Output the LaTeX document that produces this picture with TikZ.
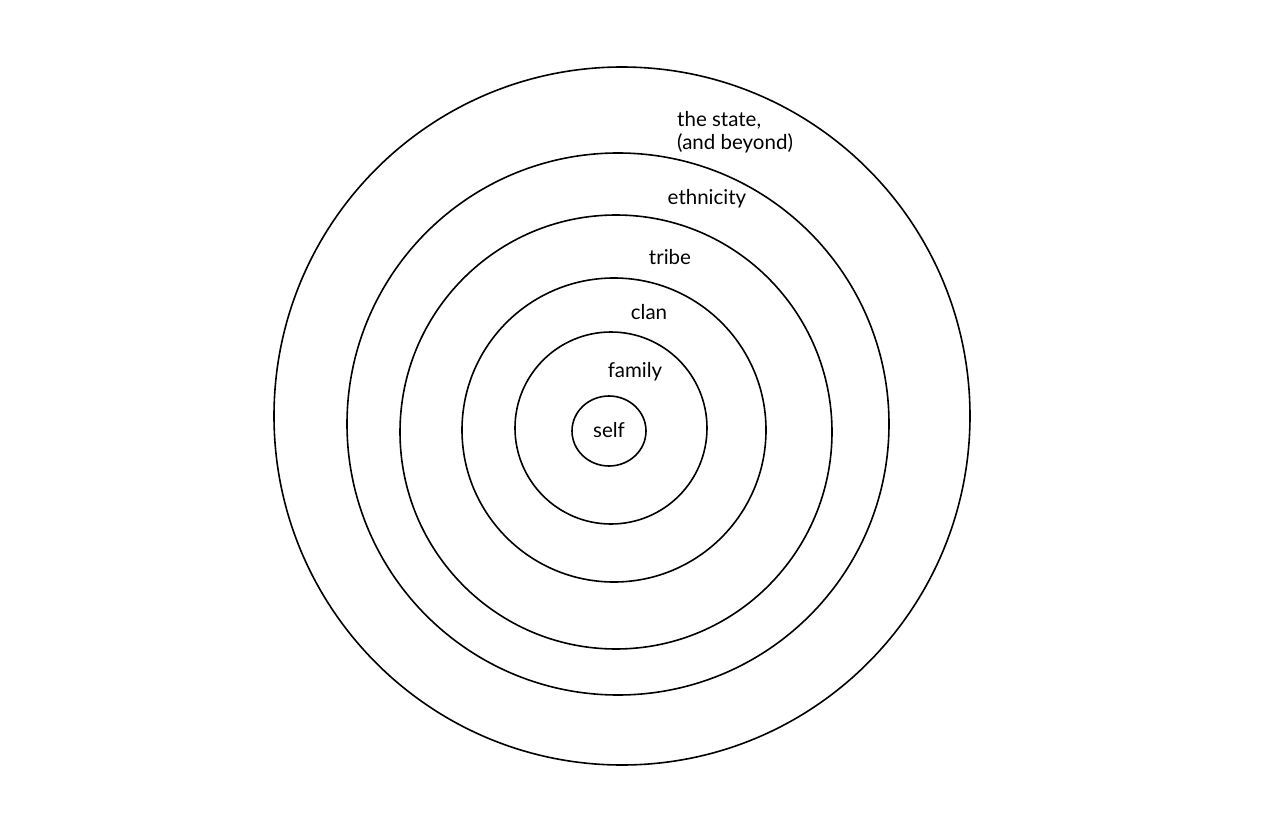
\documentclass[tikz,border=0pt]{standalone}
\usepackage{fontspec}
\setmainfont{Lato}
\usepackage{tikz}
\usetikzlibrary{calc, positioning}

\tikzset{
  ring/.style={draw, line width=1.6pt, line cap=round},
  lbl/.style={font=\fontsize{20.5}{23}\selectfont, inner sep=0pt}
}

\begin{document}
\begin{tikzpicture}[x=1pt, y=-1pt]
                \useasboundingbox (0,0) rectangle (1262,840);

                % Rings, outer to inner
                \draw[ring] (622,416) ellipse [x radius=348, y radius=349];
                \draw[ring] (618,424) ellipse [x radius=271, y radius=271];
                \draw[ring] (616,432) ellipse [x radius=216, y radius=217];
                \draw[ring] (614,430) ellipse [x radius=152, y radius=152];
                \draw[ring] (611,428) ellipse [x radius=96, y radius=96];
                \draw[ring] (609,431) ellipse [x radius=37, y radius=35];

                % Labels
                \node[lbl, align=left, anchor=west] (state) at (677,132) {the state,\\(and beyond)};
                \node[lbl] (ethnicity) at (707,199) {ethnicity};
                \node[lbl] (tribe) at (670,257) {tribe};
                \node[lbl] (clan) at (649,312) {clan};
                \node[lbl] (family) at (635,372) {family};
                \node[lbl] (self) at (609,430) {self};
            \end{tikzpicture}
\end{document}
